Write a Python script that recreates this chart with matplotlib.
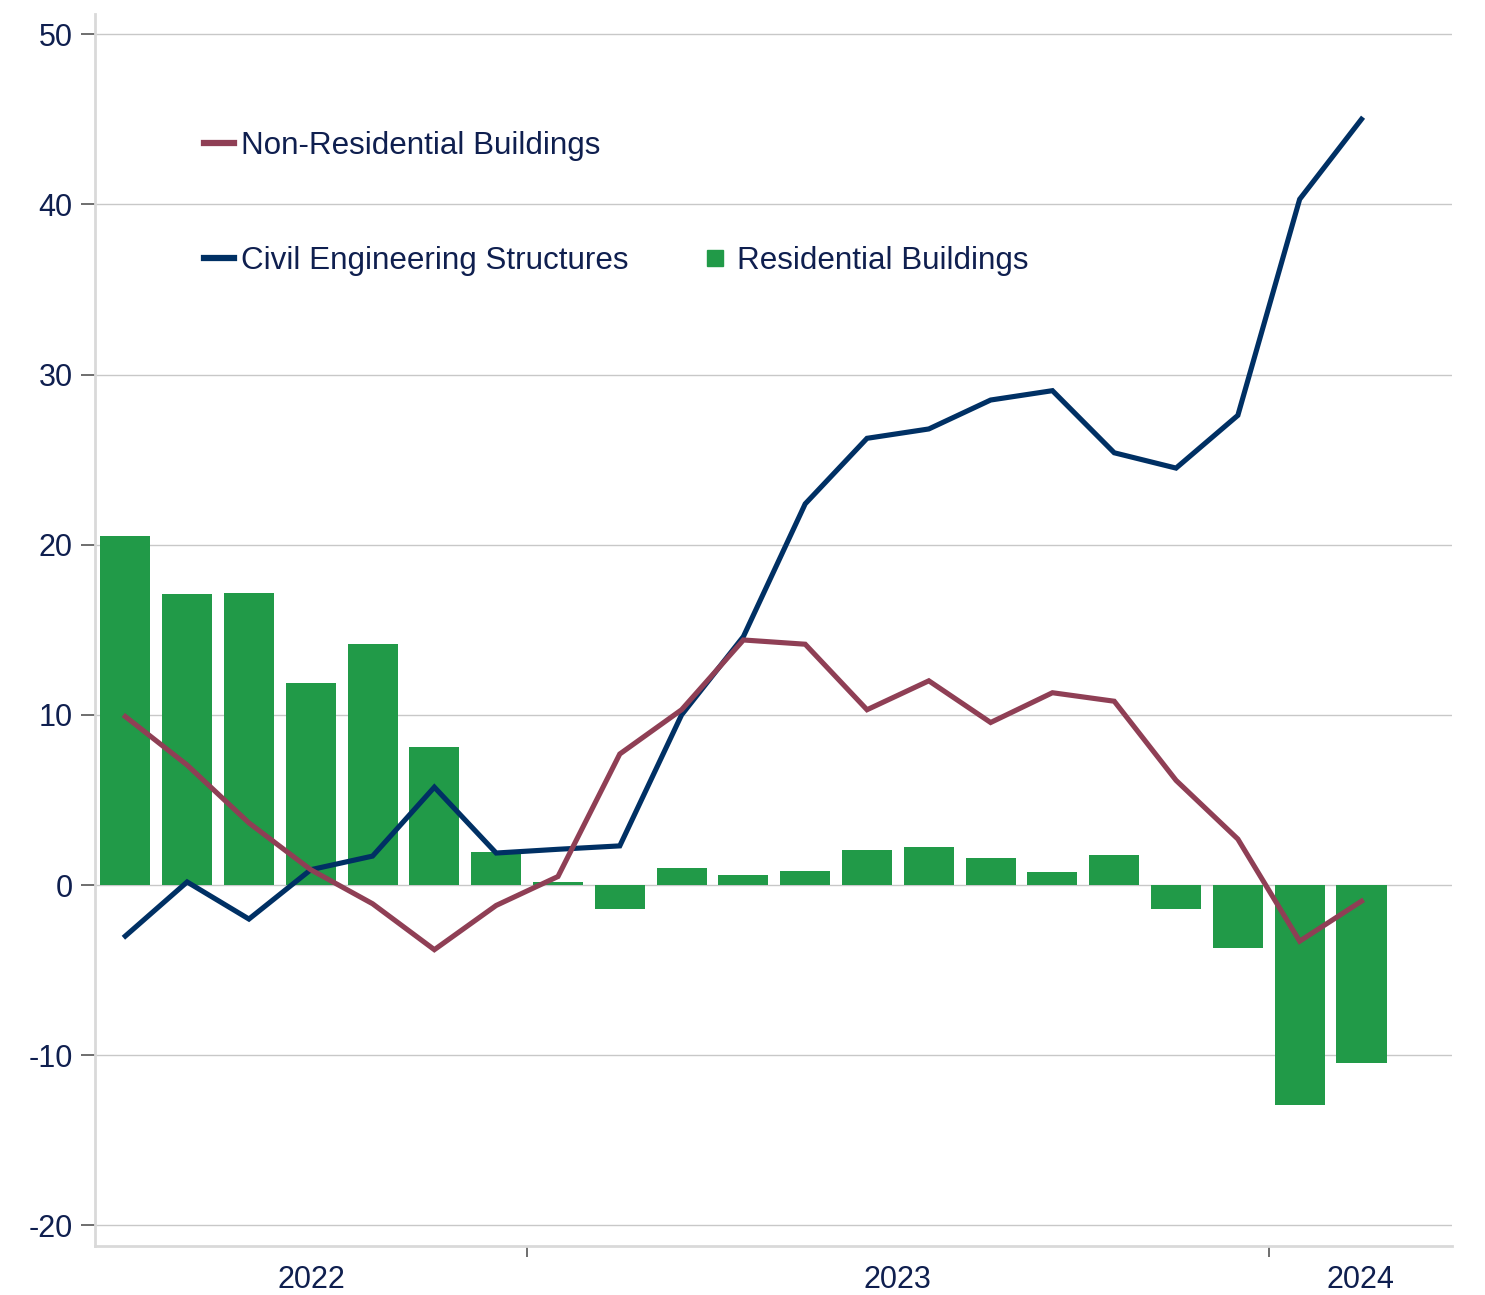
import numpy as np
import matplotlib
matplotlib.use('Agg')
import matplotlib.pyplot as plt
from matplotlib.lines import Line2D
from matplotlib.patches import Patch

# Monthly values, Jun 2022 - Feb 2024
residential = [20.5, 17.1, 17.15, 11.9, 14.15, 8.1, 1.94, 0.18, -1.4, 1.0, 0.6,
               0.82, 2.05, 2.23, 1.6, 0.76, 1.76, -1.4, -3.7, -12.9, -10.45]
civil = [-3.0, 0.18, -2.0, 0.9, 1.7, 5.75, 1.88, 2.1, 2.3, 10.0, 14.6,
         22.4, 26.25, 26.8, 28.5, 29.05, 25.4, 24.5, 27.6, 40.3, 45.0]
non_residential = [9.9, 7.05, 3.65, 0.9, -1.1, -3.8, -1.2, 0.5, 7.7, 10.3, 14.4,
                   14.15, 10.3, 12.0, 9.55, 11.3, 10.8, 6.15, 2.7, -3.3, -0.95]
years = ['2022', '2023', '2024']
months_per_year = [7, 12, 2]

green = '#219a48'
navy = '#003064'
wine = '#8f3f55'
text_color = '#0f1f4f'

plt.rcParams['font.family'] = ['Liberation Sans', 'DejaVu Sans']
plt.rcParams['axes.unicode_minus'] = False

fig = plt.figure(figsize=(14.85, 12.95), dpi=100)
ax = fig.add_axes([0.064, 0.038, 0.914, 0.951])

x = np.arange(len(residential))
ax.bar(x, residential, width=0.81, color=green, zorder=2)
ax.plot(x, civil, color=navy, lw=3.7, zorder=3, solid_joinstyle='miter')
ax.plot(x, non_residential, color=wine, lw=3.7, zorder=4, solid_joinstyle='miter')

xlim = (-0.49, len(x) - 1 + 1.47)
ax.set_xlim(*xlim)
ax.set_ylim(-21.2, 51.17)

ax.set_yticks(np.arange(-20, 51, 10))
ax.grid(axis='y', color='#c8c8c8', lw=1.0, zorder=0)
ax.tick_params(axis='y', length=10, width=1.2, color='#555555', labelsize=22,
               labelcolor=text_color, pad=6)

# year separators and centred year labels
bounds = np.cumsum(months_per_year)[:-1] - 0.5
edges = [xlim[0]] + list(bounds) + [xlim[1]]
centers = [(edges[i] + edges[i + 1]) / 2 for i in range(len(years))]
ax.set_xticks(centers)
ax.set_xticklabels(years)
ax.set_xticks(bounds, minor=True)
ax.tick_params(axis='x', which='major', length=0, labelsize=22, labelcolor=text_color, pad=14)
ax.tick_params(axis='x', which='minor', length=8, width=1.2, color='#555555')

for s in ['top', 'right']:
    ax.spines[s].set_visible(False)
for s in ['left', 'bottom']:
    ax.spines[s].set_color('#d9d9d9')
    ax.spines[s].set_linewidth(2)

handles = [Line2D([], [], color=wine, lw=4.5),
           Line2D([], [], color=navy, lw=4.5),
           Patch(facecolor='none', edgecolor='none'),
           Line2D([], [], color=green, marker='s', ls='none', markersize=11)]
labels = ['Non-Residential Buildings', 'Civil Engineering Structures', '', 'Residential Buildings']
leg = ax.legend(handles, labels, ncol=2, loc='upper left', bbox_to_anchor=(0.0593, 0.928),
                frameon=False, fontsize=22.6, handlelength=0.95, handletextpad=0.22,
                labelspacing=2.71, columnspacing=2.3)
for t in leg.get_texts():
    t.set_color(text_color)

fig.savefig('out.png', dpi=100)
